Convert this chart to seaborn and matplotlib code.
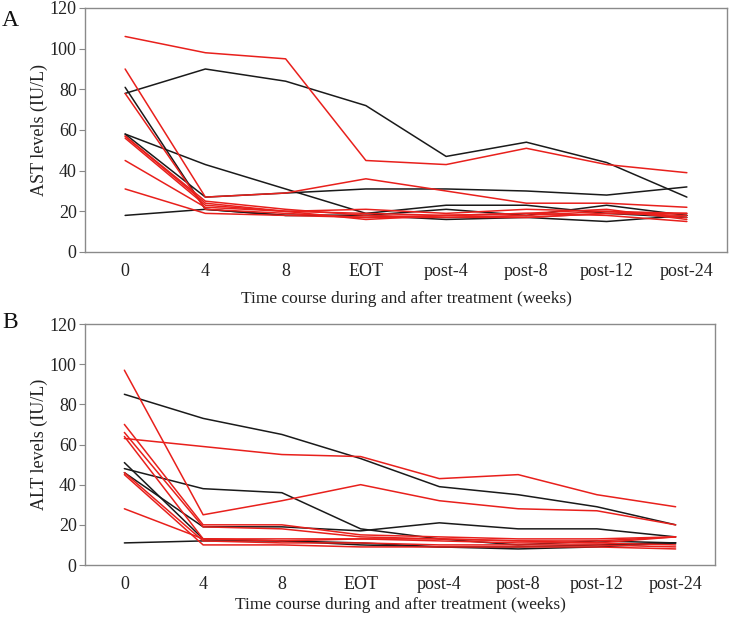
import matplotlib
matplotlib.use("Agg")
import matplotlib.pyplot as plt
import seaborn as sns
import pandas as pd

timepoints = ["0", "4", "8", "EOT", "post-4", "post-8", "post-12", "post-24"]

# Panel A: AST levels (IU/L)
ast_red = [
    [106, 98, 95, 45, 43, 51, 43, 39],
    [90, 27, 29, 36, 30, 24, 24, 22],
    [78, 21, 19, 17, 18, 17, 19, 18],
    [57, 25, 21, 18, 17, 18, 20, 19],
    [57, 24, 20, 19, 18, 19, 21, 16],
    [56, 23, 20, 21, 19, 21, 20, 17],
    [45, 22, 20, 16, 18, 19, 18, 15],
    [31, 19, 18, 17, 17, 17, 19, 19],
]
ast_black = [
    [78, 90, 84, 72, 47, 54, 44, 27],
    [81, 21, 18, 18, 16, 17, 15, 18],
    [58, 43, 31, 19, 23, 23, 19, 17],
    [58, 27, 29, 31, 31, 30, 28, 32],
    [18, 21, 18, 18, 21, 18, 23, 18],
]

# Panel B: ALT levels (IU/L)
alt_red = [
    [97, 25, 32, 40, 32, 28, 27, 20],
    [63, 59, 55, 54, 43, 45, 35, 29],
    [70, 20, 20, 15, 14, 13, 13, 14],
    [66, 19, 18, 14, 13, 12, 12, 14],
    [64, 13, 12, 13, 13, 12, 11, 14],
    [46, 12, 11, 11, 10, 10, 10, 9],
    [45, 10, 10, 9, 9, 9, 9, 8],
    [28, 13, 13, 13, 12, 11, 11, 10],
]
alt_black = [
    [85, 73, 65, 53, 39, 35, 29, 20],
    [48, 38, 36, 18, 13, 10, 12, 11],
    [51, 13, 12, 11, 9, 9, 10, 11],
    [46, 19, 19, 17, 21, 18, 18, 14],
    [11, 12, 12, 10, 9, 8, 9, 11],
]

RED = "#e8201c"
BLACK = "#1a1a1a"


def to_long(red, black):
    rows = []
    pid = 0
    for group, series in (("black", black), ("red", red)):
        for s in series:
            for i, v in enumerate(s):
                rows.append({"t": i, "value": v, "patient": pid, "group": group})
            pid += 1
    return pd.DataFrame(rows)


sns.set_theme(style="white")
plt.rcParams["font.family"] = ["Liberation Serif", "DejaVu Serif"]

fig = plt.figure(figsize=(7.3, 6.17), dpi=100)
axA = fig.add_axes([85 / 730, 1 - 252 / 617, 642 / 730, 244 / 617])
axB = fig.add_axes([85 / 730, 1 - 565 / 617, 630 / 730, 241 / 617])

for ax, red, black, ylab, letter, ly, xpad in (
    (axA, ast_red, ast_black, "AST levels (IU/L)", "A", 20 / 617, 8),
    (axB, alt_red, alt_black, "ALT levels (IU/L)", "B", 323 / 617, 3),
):
    df = to_long(red, black)
    sns.lineplot(
        data=df, x="t", y="value", hue="group", units="patient",
        estimator=None, palette={"red": RED, "black": BLACK},
        linewidth=1.1, legend=False, ax=ax,
    )
    ax.set_xlim(-0.5, len(timepoints) - 0.5)
    ax.set_ylim(0, 120)
    ax.set_yticks(range(0, 121, 20))
    ax.set_xticks(range(len(timepoints)))
    ax.set_xticklabels(timepoints)
    ax.tick_params(axis="both", labelsize=13, colors="#222222")
    ax.tick_params(axis="y", length=4, width=0.8, color="#888888", direction="out", left=True, pad=2)
    ax.tick_params(axis="x", length=0, pad=8)
    for sp in ax.spines.values():
        sp.set_color("#8a8a8a")
        sp.set_linewidth(1.0)
    ax.set_ylabel(ylab, fontsize=13, color="#222222", labelpad=1)
    ax.set_xlabel("Time course during and after treatment (weeks)", fontsize=12.5,
                  color="#222222", labelpad=xpad)
    fig.text(0.003, 1 - ly, letter, fontsize=17, va="center", ha="left", color="#111111")

fig.savefig("out.png", dpi=100)
